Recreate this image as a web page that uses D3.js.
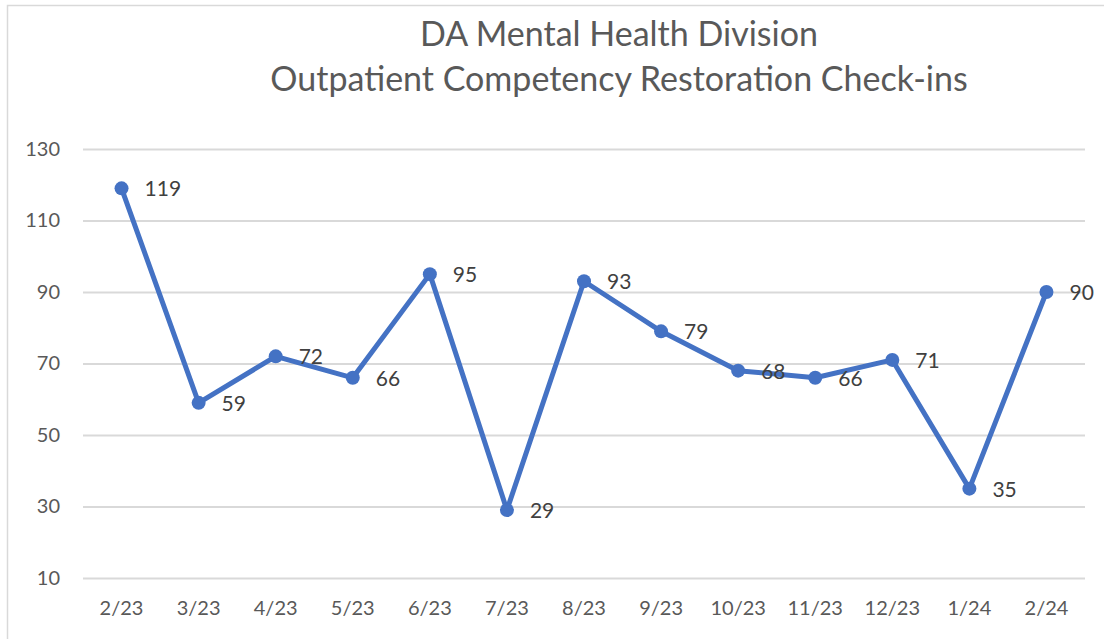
<!DOCTYPE html>
<html>
<head>
<meta charset="utf-8">
<script src="https://cdn.jsdelivr.net/npm/d3@7"></script>
<style>
	body { margin: 0; background: #fff; }
	svg { display: block; font-family: "Lato", "Open Sans", sans-serif; }
</style>
</head>
<body>
<div id="chart"></div>
<script>
//chart data
var months = ["2/23", "3/23", "4/23", "5/23", "6/23", "7/23", "8/23", "9/23", "10/23", "11/23", "12/23", "1/24", "2/24"],
	checkins = [119, 59, 72, 66, 95, 29, 93, 79, 68, 66, 71, 35, 90],
	yTicks = [10, 30, 50, 70, 90, 110, 130],
	titleLines = ["DA Mental Health Division", "Outpatient Competency Restoration Check-ins"];

//frame dimensions
var width = 1104,
	height = 639,
	plotLeft = 83,
	plotRight = 1085,
	plotTop = 149,
	plotBottom = 578,
	lineColour = "#4472C4";

var svg = d3.select("#chart")
	.append("svg")
		.attr("width", width)
		.attr("height", height);

//outer chart border (cut off at right and bottom)
svg.append("rect")
	.attr("x", 7.5)
	.attr("y", 5.5)
	.attr("width", width + 10)
	.attr("height", height + 10)
	.attr("fill", "none")
	.attr("stroke", "#d9d9d9")
	.attr("stroke-width", 1.5);

//title
svg.append("g")
	.selectAll("text")
	.data(titleLines)
	.enter()
	.append("text")
		.attr("x", 619)
		.attr("y", function(d, i) { return 46 + i * 45; })
		.attr("text-anchor", "middle")
		.attr("font-size", 34)
		.attr("fill", "#595959")
		.text(function(d) { return d; });

var x = d3.scaleBand()
	.domain(months)
	.range([plotLeft, plotRight]);

var y = d3.scaleLinear()
	.domain([10, 130])
	.range([plotBottom, plotTop]);

//gridlines + y labels
var yAxis = svg.append("g")
	.attr("transform", "translate(" + plotLeft + ",0)")
	.call(d3.axisLeft(y)
		.tickValues(yTicks)
		.tickSize(-(plotRight - plotLeft))
		.tickPadding(23));
yAxis.select(".domain").remove();
yAxis.selectAll(".tick line")
	.attr("stroke", "#d9d9d9")
	.attr("stroke-width", 2);
yAxis.selectAll(".tick text")
	.attr("font-size", 20)
	.attr("font-family", "Lato, sans-serif")
	.attr("fill", "#595959");

//x labels
var xAxis = svg.append("g")
	.attr("transform", "translate(0," + plotBottom + ")")
	.call(d3.axisBottom(x).tickSize(0).tickPadding(23));
xAxis.select(".domain").remove();
xAxis.selectAll(".tick text")
	.attr("font-size", 20)
	.attr("font-family", "Lato, sans-serif")
	.attr("fill", "#595959");

var cx = function(d, i) { return x(months[i]) + x.bandwidth() / 2; };

//line
var line = d3.line()
	.x(cx)
	.y(function(d) { return y(d); });

svg.append("path")
	.datum(checkins)
	.attr("d", line)
	.attr("fill", "none")
	.attr("stroke", lineColour)
	.attr("stroke-width", 5)
	.attr("stroke-linejoin", "round");

//markers
svg.selectAll(".dot")
	.data(checkins)
	.enter()
	.append("circle")
		.attr("class", "dot")
		.attr("cx", cx)
		.attr("cy", function(d) { return y(d); })
		.attr("r", 7)
		.attr("fill", lineColour);

//data labels
svg.selectAll(".lbl")
	.data(checkins)
	.enter()
	.append("text")
		.attr("class", "lbl")
		.attr("x", function(d, i) { return cx(d, i) + 23; })
		.attr("y", function(d) { return y(d); })
		.attr("dy", "0.38em")
		.attr("font-size", 21)
		.attr("fill", "#404040")
		.text(function(d) { return d; });
</script>
</body>
</html>
